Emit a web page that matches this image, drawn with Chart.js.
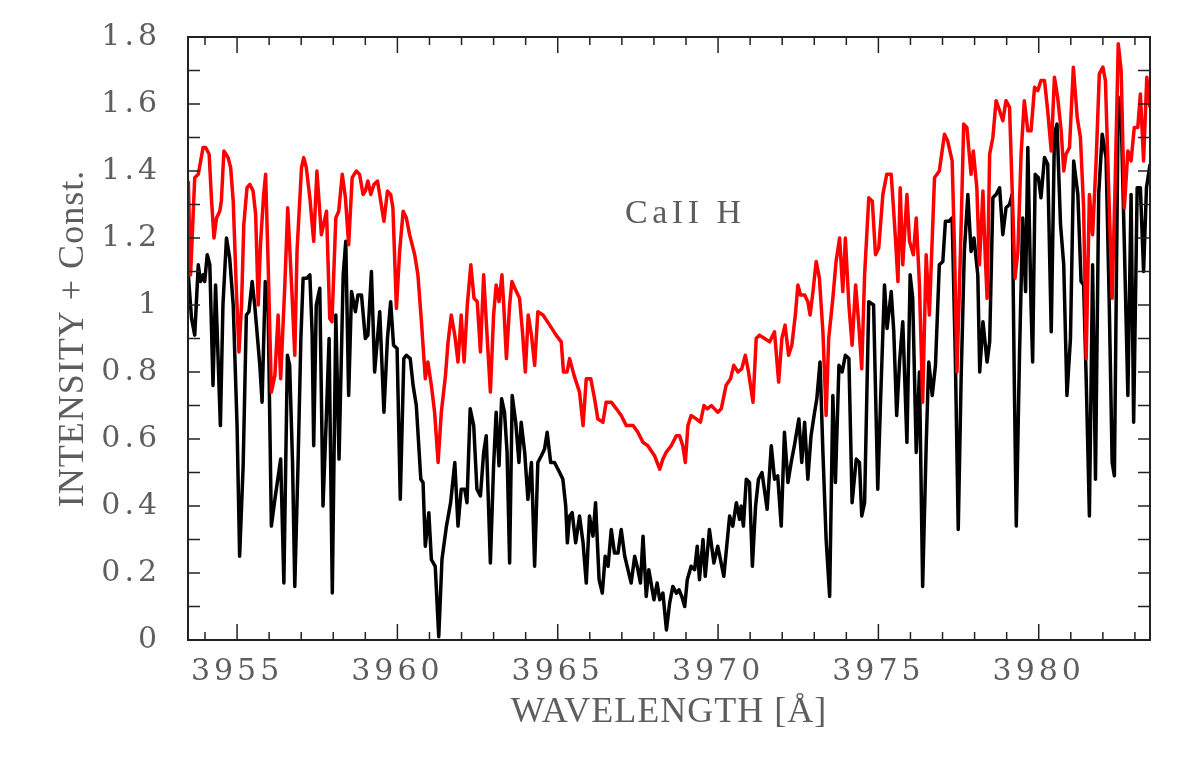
<!DOCTYPE html>
<html lang="en">
  <head>
    <meta charset="UTF-8" />
    <title>CaII H spectrum</title>
    <script src="https://cdn.jsdelivr.net/npm/chart.js@4.4.1/dist/chart.umd.min.js"></script>
    <style>
      html, body { margin: 0; padding: 0; background: #fff; }
      #wrap { width: 1200px; height: 761px; }
    </style>
  </head>
  <body>
    <div id="wrap"><canvas id="myChart" width="1200" height="761"></canvas></div>

    <script>
      // upper spectrum (red)
      const redWavelength = [
        3953.48, 3953.55, 3953.68, 3953.79, 3953.94, 3954.02, 3954.13, 3954.20, 3954.28, 3954.36,
        3954.46, 3954.51, 3954.59, 3954.72, 3954.80, 3954.88, 3954.98, 3955.06, 3955.14, 3955.21,
        3955.31, 3955.40, 3955.50, 3955.58, 3955.66, 3955.73, 3955.83, 3955.89, 3955.97, 3956.07,
        3956.18, 3956.28, 3956.36, 3956.49, 3956.58, 3956.70, 3956.80, 3956.87, 3957.01, 3957.08,
        3957.16, 3957.27, 3957.39, 3957.49,
        3957.63, 3957.79, 3957.89, 3957.96, 3958.08, 3958.17, 3958.28, 3958.38, 3958.48, 3958.59,
        3958.72, 3958.82, 3958.93, 3959.00, 3959.08, 3959.17, 3959.27, 3959.38, 3959.48, 3959.58,
        3959.69, 3959.79, 3959.86, 3959.97, 3960.07, 3960.18, 3960.28, 3960.38, 3960.54, 3960.64,
        3960.75, 3960.87, 3960.95, 3961.06, 3961.16, 3961.27, 3961.37, 3961.50, 3961.58, 3961.68,
        3961.79, 3961.89, 3961.99, 3962.08, 3962.18, 3962.29, 3962.39, 3962.49, 3962.59, 3962.69,
        3962.79, 3962.90, 3963.00, 3963.08, 3963.17, 3963.26, 3963.31, 3963.40, 3963.50, 3963.57,
        3963.71, 3963.81, 3963.90, 3963.99, 3964.08, 3964.18, 3964.28, 3964.38, 3964.54, 3964.75,
        3964.95, 3965.11, 3965.18, 3965.29, 3965.37, 3965.51, 3965.68, 3965.79, 3965.89, 3966.03,
        3966.15, 3966.25, 3966.41, 3966.51, 3966.67, 3966.83, 3966.98, 3967.14, 3967.24, 3967.35,
        3967.50, 3967.66, 3967.81,
        3968.02, 3968.18, 3968.28, 3968.38, 3968.54, 3968.70, 3968.80, 3968.90, 3968.98, 3969.06,
        3969.16, 3969.32, 3969.45, 3969.56, 3969.66, 3969.79, 3969.89, 3969.99, 3970.10, 3970.25,
        3970.39, 3970.49, 3970.62, 3970.74, 3970.85, 3970.95, 3971.09, 3971.19, 3971.29, 3971.45,
        3971.61, 3971.76, 3971.89, 3971.99, 3972.09, 3972.20, 3972.30, 3972.41, 3972.49, 3972.57,
        3972.70, 3972.80, 3972.87, 3972.96,
        3973.06, 3973.16, 3973.27, 3973.37, 3973.45, 3973.58, 3973.68, 3973.79, 3973.89, 3973.97,
        3974.08, 3974.18, 3974.29, 3974.39, 3974.48, 3974.57, 3974.70, 3974.81, 3974.91, 3975.01,
        3975.14, 3975.26, 3975.40, 3975.47, 3975.53, 3975.61, 3975.68, 3975.76, 3975.89, 3975.97,
        3976.09, 3976.18, 3976.28, 3976.38, 3976.49, 3976.59, 3976.75, 3976.90, 3977.06, 3977.16,
        3977.30, 3977.37, 3977.45, 3977.56, 3977.66, 3977.76, 3977.89, 3977.96, 3978.07, 3978.15,
        3978.26, 3978.33, 3978.39, 3978.47, 3978.57, 3978.67, 3978.78, 3978.88, 3978.98, 3979.09,
        3979.16, 3979.26, 3979.35, 3979.45, 3979.55, 3979.66, 3979.76, 3979.87, 3979.97, 3980.07,
        3980.18, 3980.28, 3980.39, 3980.49, 3980.59, 3980.70, 3980.78, 3980.85, 3980.96, 3981.08,
        3981.20, 3981.30, 3981.40, 3981.48, 3981.58, 3981.68, 3981.79, 3981.89, 3982.00, 3982.08,
        3982.18, 3982.29, 3982.38, 3982.48, 3982.57, 3982.67, 3982.78, 3982.88, 3982.98, 3983.09,
        3983.17, 3983.27, 3983.37, 3983.47
      ];
      const redIntensity = [
        1.37, 1.09, 1.38, 1.39, 1.47, 1.47, 1.45, 1.32, 1.20, 1.26,
        1.28, 1.31, 1.46, 1.44, 1.41, 1.31, 1.04, 0.86, 1.00, 1.24,
        1.35, 1.36, 1.34, 1.27, 1.00, 1.18, 1.33, 1.39, 1.12, 0.74,
        0.79, 0.97, 0.78, 1.06, 1.29, 1.06, 0.85, 1.16, 1.41, 1.44,
        1.41, 1.32, 1.19, 1.40,
        1.21, 1.28, 0.96, 0.95, 1.26, 1.28, 1.39, 1.32, 1.18, 1.38,
        1.40, 1.39, 1.33, 1.34, 1.37, 1.33, 1.36, 1.37, 1.31, 1.25,
        1.34, 1.33, 1.29, 0.99, 1.16, 1.28, 1.26, 1.21, 1.15, 1.09,
        0.95, 0.78, 0.83, 0.76, 0.68, 0.53, 0.68, 0.79, 0.89, 0.97,
        0.91, 0.83, 0.97, 0.83, 1.00, 1.12, 1.02, 1.01, 0.86, 1.09,
        0.92, 0.74, 0.97, 1.06, 1.01, 1.09, 1.01, 0.84, 1.00, 1.07,
        1.04, 1.02, 0.92, 0.80, 0.97, 0.91, 0.82, 0.98, 0.97, 0.94,
        0.91, 0.89, 0.80, 0.80, 0.84, 0.79, 0.74, 0.64, 0.78, 0.78,
        0.72, 0.66, 0.65, 0.71, 0.71, 0.69, 0.67, 0.64, 0.64, 0.64,
        0.62, 0.59, 0.58,
        0.55, 0.51, 0.54, 0.56, 0.58, 0.61, 0.61, 0.58, 0.53, 0.64,
        0.67, 0.66, 0.65, 0.70, 0.69, 0.70, 0.69, 0.68, 0.69, 0.76,
        0.78, 0.82, 0.80, 0.81, 0.85, 0.80, 0.71, 0.90, 0.91, 0.90,
        0.89, 0.92, 0.77, 0.90, 0.94, 0.85, 0.88, 0.97, 1.06, 1.03,
        1.03, 1.01, 0.97, 1.04,
        1.13, 1.08, 0.92, 0.67, 0.90, 1.02, 1.13, 1.20, 1.04, 1.20,
        1.00, 0.88, 1.06, 0.94, 0.81, 1.09, 1.32, 1.31, 1.15, 1.17,
        1.33, 1.39, 1.39, 1.29, 1.20, 1.07, 1.35, 1.12, 1.33, 1.19,
        1.15, 1.26, 1.06, 0.71, 1.15, 0.97, 1.38, 1.40, 1.51, 1.49,
        1.43, 1.18, 0.80, 1.16, 1.54, 1.53, 1.39, 1.46, 1.35, 1.12,
        1.34, 1.15, 1.02, 1.45, 1.50, 1.61, 1.58, 1.55, 1.61, 1.59,
        1.38, 1.08, 1.16, 1.45, 1.61, 1.52, 1.52, 1.65, 1.64, 1.67,
        1.67, 1.58, 1.46, 1.68, 1.62, 1.52, 1.40, 1.45, 1.47, 1.71,
        1.56, 1.50, 1.29, 0.84, 1.33, 1.21, 1.43, 1.69, 1.71, 1.67,
        1.35, 1.02, 1.35, 1.78, 1.70, 1.29, 1.46, 1.43, 1.53, 1.53,
        1.63, 1.43, 1.68, 1.59
      ];

      // lower spectrum (black)
      const blackWavelength = [
        3953.48, 3953.58, 3953.68, 3953.79, 3953.86, 3953.94, 3953.99, 3954.07, 3954.15, 3954.25,
        3954.33, 3954.48, 3954.56, 3954.67, 3954.77, 3954.88, 3955.00, 3955.08, 3955.19, 3955.29,
        3955.37, 3955.47, 3955.55, 3955.71, 3955.78, 3955.88, 3955.97, 3956.07, 3956.18, 3956.36,
        3956.46, 3956.57, 3956.64, 3956.73, 3956.80, 3956.90, 3956.99, 3957.06, 3957.18, 3957.27,
        3957.34, 3957.39, 3957.47,
        3957.58, 3957.68, 3957.79, 3957.87, 3957.97, 3958.08, 3958.18, 3958.31, 3958.39, 3958.48,
        3958.57, 3958.69, 3958.77, 3958.88, 3959.00, 3959.08, 3959.19, 3959.29, 3959.45, 3959.58,
        3959.69, 3959.79, 3959.88, 3959.99, 3960.09, 3960.20, 3960.28, 3960.40, 3960.49, 3960.59,
        3960.73, 3960.80, 3960.87, 3960.98, 3961.06, 3961.18, 3961.29, 3961.39, 3961.53, 3961.66,
        3961.79, 3961.89, 3961.99, 3962.10, 3962.17, 3962.27, 3962.38, 3962.48, 3962.59, 3962.69,
        3962.77, 3962.90, 3963.00, 3963.08, 3963.17, 3963.25, 3963.34, 3963.42, 3963.50, 3963.58,
        3963.69, 3963.79, 3963.86, 3963.97, 3964.07, 3964.18, 3964.28, 3964.38, 3964.49, 3964.59,
        3964.67, 3964.78, 3964.90, 3965.06, 3965.16, 3965.25, 3965.30, 3965.37, 3965.45, 3965.56,
        3965.68, 3965.79, 3965.89, 3965.99, 3966.10, 3966.18, 3966.29, 3966.39, 3966.48, 3966.57,
        3966.67, 3966.77, 3966.88, 3966.98, 3967.09, 3967.19, 3967.29, 3967.40, 3967.50, 3967.58,
        3967.66, 3967.76, 3967.84,
        3968.00, 3968.10, 3968.18, 3968.28, 3968.33, 3968.39, 3968.49, 3968.59, 3968.70, 3968.78,
        3968.87, 3968.96, 3969.04, 3969.16, 3969.27, 3969.35, 3969.42, 3969.53, 3969.60, 3969.73,
        3969.87, 3969.99, 3970.18, 3970.36, 3970.46, 3970.57, 3970.67, 3970.72, 3970.79, 3970.88,
        3970.98, 3971.07, 3971.17, 3971.26, 3971.37, 3971.53, 3971.66, 3971.76, 3971.86, 3971.97,
        3972.07, 3972.18, 3972.28, 3972.38, 3972.52, 3972.61, 3972.70, 3972.80, 3972.90, 3973.01,
        3973.08, 3973.18, 3973.27, 3973.37, 3973.48, 3973.58, 3973.66, 3973.77, 3973.87, 3973.97,
        3974.08, 3974.18, 3974.31, 3974.41, 3974.48, 3974.57, 3974.70, 3974.85, 3974.98, 3975.07,
        3975.19, 3975.27, 3975.40, 3975.48, 3975.57, 3975.66, 3975.76, 3975.89, 3975.99, 3976.07,
        3976.18, 3976.28, 3976.38, 3976.49, 3976.57, 3976.68, 3976.78, 3976.90, 3977.01, 3977.09,
        3977.20, 3977.30, 3977.40, 3977.49, 3977.58, 3977.68, 3977.79, 3977.89, 3977.98, 3978.10,
        3978.16, 3978.26, 3978.39, 3978.47, 3978.57, 3978.67, 3978.78, 3978.88, 3978.98, 3979.09,
        3979.17, 3979.24, 3979.30, 3979.40, 3979.50, 3979.59, 3979.66, 3979.76, 3979.81, 3979.89,
        3979.99, 3980.07, 3980.18, 3980.28, 3980.39, 3980.49, 3980.57, 3980.68, 3980.78, 3980.88,
        3980.99, 3981.09, 3981.22, 3981.32, 3981.40, 3981.48, 3981.58, 3981.68, 3981.77, 3981.87,
        3981.98, 3982.10, 3982.20, 3982.29, 3982.36, 3982.48, 3982.57, 3982.67, 3982.78, 3982.88,
        3982.96, 3983.07, 3983.17, 3983.27, 3983.36, 3983.47
      ];
      const blackIntensity = [
        1.09, 0.96, 0.91, 1.12, 1.07, 1.09, 1.07, 1.15, 1.12, 0.76,
        1.06, 0.64, 1.00, 1.20, 1.14, 1.00, 0.64, 0.25, 0.52, 0.97,
        0.98, 1.07, 1.00, 0.82, 0.71, 1.07, 0.98, 0.34, 0.42, 0.54,
        0.17, 0.85, 0.82, 0.53, 0.16, 0.52, 0.90, 1.08, 1.08, 1.09,
        0.92, 0.58, 1.00,
        1.05, 0.40, 0.68, 0.90, 0.14, 0.97, 0.54, 1.09, 1.19, 0.73,
        1.04, 0.98, 1.03, 1.03, 0.90, 0.91, 1.10, 0.80, 0.98, 0.68,
        0.90, 1.01, 0.88, 0.87, 0.42, 0.84, 0.85, 0.84, 0.76, 0.70,
        0.48, 0.47, 0.28, 0.38, 0.24, 0.22, 0.01, 0.24, 0.34, 0.41,
        0.53, 0.34, 0.45, 0.45, 0.41, 0.69, 0.64, 0.45, 0.43, 0.56,
        0.61, 0.23, 0.52, 0.68, 0.52, 0.72, 0.68, 0.56, 0.23, 0.73,
        0.65, 0.53, 0.65, 0.56, 0.42, 0.53, 0.22, 0.53, 0.55, 0.57,
        0.62, 0.53, 0.53, 0.50, 0.48, 0.40, 0.29, 0.37, 0.38, 0.29,
        0.37, 0.29, 0.17, 0.37, 0.31, 0.41, 0.18, 0.14, 0.25, 0.22,
        0.33, 0.26, 0.26, 0.33, 0.25, 0.21, 0.17, 0.25, 0.21, 0.17,
        0.31, 0.13, 0.21,
        0.12, 0.17, 0.12, 0.14, 0.09, 0.03, 0.11, 0.16, 0.14, 0.15,
        0.13, 0.10, 0.18, 0.22, 0.21, 0.28, 0.18, 0.30, 0.19, 0.33,
        0.23, 0.28, 0.19, 0.37, 0.34, 0.41, 0.36, 0.40, 0.34, 0.48,
        0.47, 0.22, 0.40, 0.48, 0.50, 0.39, 0.58, 0.48, 0.49, 0.34,
        0.62, 0.47, 0.53, 0.58, 0.66, 0.53, 0.65, 0.48, 0.61, 0.68,
        0.72, 0.83, 0.56, 0.30, 0.13, 0.73, 0.47, 0.82, 0.80, 0.85,
        0.84, 0.41, 0.54, 0.53, 0.37, 0.41, 1.01, 1.00, 0.45, 0.72,
        1.06, 0.93, 1.04, 0.92, 0.67, 0.83, 0.95, 0.59, 1.09, 1.02,
        0.56, 0.80, 0.16, 0.58, 0.83, 0.73, 0.82, 1.12, 1.13, 1.25,
        1.25, 1.26, 0.84, 0.33, 0.78, 1.16, 1.33, 1.16, 1.20, 1.09,
        0.80, 0.95, 0.83, 0.89, 1.32, 1.33, 1.35, 1.21, 1.29, 1.30,
        1.33, 0.76, 0.34, 0.85, 1.26, 1.04, 1.47, 1.00, 0.83, 1.39,
        1.38, 1.32, 1.44, 1.42, 0.92, 1.51, 1.54, 1.24, 1.12, 0.73,
        0.90, 1.43, 1.33, 1.07, 1.06, 0.78, 0.37, 1.12, 0.48, 1.33,
        1.51, 1.44, 1.00, 0.53, 0.49, 1.62, 1.57, 1.18, 0.73, 1.33,
        0.65, 1.35, 1.35, 1.10, 1.35, 1.42
      ];

      const xLabelTicks = [3955, 3960, 3965, 3970, 3975, 3980];
      const xTitle = 'WAVELENGTH [Å]';
      const yTitle = 'INTENSITY + Const.';
      const lineLabel = 'CaII H';
      const labelWave = 3967.10;   // label anchor in data units
      const labelLevel = 1.245;

      const serif = '"Liberation Serif", "DejaVu Serif", serif';
      const digitFont = '"DejaVu Serif", "Liberation Serif", serif';
      const textGrey = '#5e5e5e';

      function toPoints(xs, ys) {
        return xs.map((w, i) => ({ x: w, y: ys[i] }));
      }

      // boxed frame with inward ticks on all four sides, axis titles, line label
      const frameTicks = {
        id: 'frameTicks',
        beforeDraw(chart) {
          chart.ctx.letterSpacing = '4px';   // wide, plotter-like digits
        },
        afterDatasetsDraw(chart) {
          const { ctx, chartArea: a, scales: { x, y } } = chart;
          ctx.save();
          ctx.strokeStyle = '#222';
          ctx.lineWidth = 1.5;
          ctx.beginPath();
          x.ticks.forEach(t => {
            const v = t.value;
            const px = x.getPixelForValue(v);
            const len = xLabelTicks.includes(v) ? 16 : 8;
            ctx.moveTo(px, a.bottom); ctx.lineTo(px, a.bottom - len);
            ctx.moveTo(px, a.top); ctx.lineTo(px, a.top + len);
          });
          y.ticks.forEach(t => {
            if (t.value <= 1e-6 || t.value >= 1.8 - 1e-6) return;
            const py = y.getPixelForValue(t.value);
            ctx.moveTo(a.left, py); ctx.lineTo(a.left + 12, py);
            ctx.moveTo(a.right, py); ctx.lineTo(a.right - 12, py);
          });
          ctx.stroke();
          ctx.lineWidth = 2;
          ctx.strokeRect(a.left, a.top, a.right - a.left, a.bottom - a.top);

          ctx.fillStyle = textGrey;
          ctx.textBaseline = 'alphabetic';

          // line label
          ctx.font = '34px ' + serif;
          ctx.textAlign = 'left';
          ctx.letterSpacing = '4.5px';
          ctx.fillText(lineLabel, x.getPixelForValue(labelWave), y.getPixelForValue(labelLevel));

          // x title
          ctx.font = '36px ' + serif;
          ctx.textAlign = 'center';
          ctx.letterSpacing = '1px';
          ctx.fillText(xTitle, (a.left + a.right) / 2, 722);

          // y title
          ctx.translate(83, (a.top + a.bottom) / 2);
          ctx.rotate(-Math.PI / 2);
          ctx.letterSpacing = '1px';
          ctx.fillText(yTitle, 0, 0);
          ctx.restore();
        }
      };

      window.addEventListener('load', setup);

      function setup() {
        const ctx = document.getElementById('myChart').getContext('2d');
        new Chart(ctx, {
          type: 'scatter',
          data: {
            datasets: [
              {
                label: 'upper',
                data: toPoints(redWavelength, redIntensity),
                showLine: true,
                borderColor: '#ff0000',
                borderWidth: 3.5,
                pointRadius: 0,
                tension: 0,
                borderJoinStyle: 'round'
              },
              {
                label: 'lower',
                data: toPoints(blackWavelength, blackIntensity),
                showLine: true,
                borderColor: '#000000',
                borderWidth: 3.5,
                pointRadius: 0,
                tension: 0,
                borderJoinStyle: 'round'
              }
            ]
          },
          options: {
            responsive: false,
            animation: false,
            devicePixelRatio: 1,
            layout: { padding: { left: 0, right: 50, top: 36, bottom: 0 } },
            plugins: { legend: { display: false }, tooltip: { enabled: false } },
            scales: {
              x: {
                type: 'linear',
                min: 3953.47,
                max: 3983.47,
                grid: { display: false },
                border: { display: false },
                afterFit: s => { s.height = 121; },
                // one tick per Angstrom, labels only on the 5 A marks
                afterBuildTicks: s => {
                  const t = [];
                  for (let v = Math.ceil(s.min); v <= Math.floor(s.max); v++) t.push({ value: v });
                  s.ticks = t;
                },
                ticks: {
                  autoSkip: false,
                  maxRotation: 0,
                  padding: 6,
                  color: textGrey,
                  font: { family: digitFont, size: 30 },
                  callback: v => (xLabelTicks.includes(v) ? String(v) : '')
                }
              },
              y: {
                min: 0,
                max: 1.8,
                grid: { display: false },
                border: { display: false },
                afterFit: s => { s.width = 188; },
                ticks: {
                  stepSize: 0.1,
                  autoSkip: false,
                  padding: 19,
                  color: textGrey,
                  font: { family: digitFont, size: 30 },
                  callback: v => {
                    const k = Math.round(v * 10);
                    return k % 2 === 0 ? String(k / 10) : '';
                  }
                }
              }
            }
          },
          plugins: [frameTicks]
        });
      }
    </script>
  </body>
</html>
